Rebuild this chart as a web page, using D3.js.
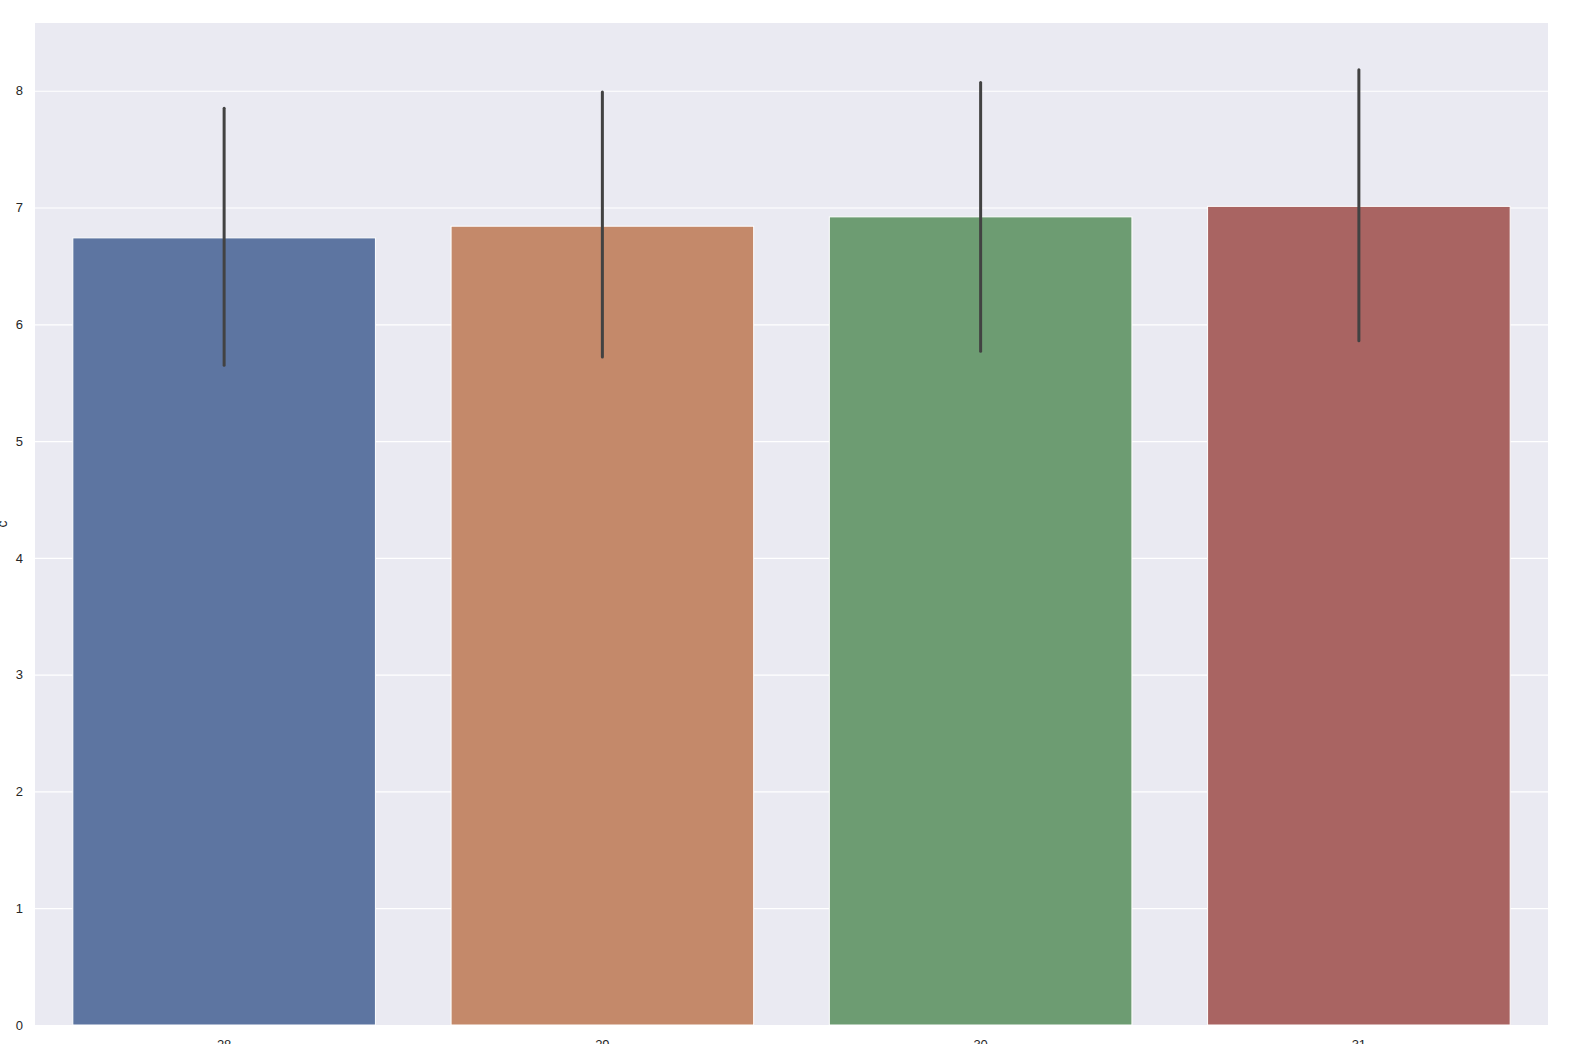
<!DOCTYPE html>
<html>
<head>
<meta charset="utf-8">
<script src="https://cdn.jsdelivr.net/npm/d3@7"></script>
<style>
    body { margin: 0; background: #ffffff; overflow: hidden; }
    svg { display: block; font-family: "Liberation Sans", Arial, sans-serif; }
</style>
</head>
<body>
<svg id="chart"></svg>
<script>
// Data
const categories = ['28', '29', '30', '31'];
const means = [6.74, 6.84, 6.92, 7.01];
const ciLow = [5.65, 5.72, 5.77, 5.86];
const ciHigh = [7.85, 7.99, 8.07, 8.18];
const yTicks = [0, 1, 2, 3, 4, 5, 6, 7, 8];
const colors = ['#5d75a1', '#c4896a', '#6d9c72', '#a96462'];

const w = 1572;
const h = 1044;
const margin = {top: 23, right: 24, bottom: 19, left: 35};

const svg = d3.select('#chart')
    .attr('width', w)
    .attr('height', h);

const x = d3.scaleBand()
    .domain(categories)
    .range([margin.left, w - margin.right])
    .paddingInner(0.2)
    .paddingOuter(0.1);

const y = d3.scaleLinear()
    .domain([0, 8.58])
    .range([h - margin.bottom, margin.top]);

// plot background
svg.append('rect')
    .attr('x', margin.left)
    .attr('y', margin.top)
    .attr('width', w - margin.left - margin.right)
    .attr('height', h - margin.top - margin.bottom)
    .attr('fill', '#eaeaf2');

// y axis with white grid lines
const yAxis = svg.append('g')
    .attr('transform', `translate(${margin.left},0)`)
    .call(d3.axisLeft(y)
        .tickValues(yTicks)
        .tickFormat(d3.format('d'))
        .tickSize(-(w - margin.left - margin.right))
        .tickPadding(12));
yAxis.select('.domain').remove();
yAxis.selectAll('.tick line')
    .attr('stroke', '#ffffff')
    .attr('stroke-width', 1.2);
yAxis.selectAll('.tick text')
    .attr('fill', '#262626')
    .style('font-size', '13px');

// bars
const rows = categories.map((c, i) => ({cat: c, mean: means[i], lo: ciLow[i], hi: ciHigh[i]}));
const color = d3.scaleOrdinal().domain(categories).range(colors);

svg.selectAll('rect.bar')
    .data(rows)
    .join('rect')
    .attr('class', 'bar')
    .attr('x', d => x(d.cat))
    .attr('y', d => y(d.mean))
    .attr('width', x.bandwidth())
    .attr('height', d => y(0) - y(d.mean))
    .attr('fill', d => color(d.cat))
    .attr('stroke', '#ffffff')
    .attr('stroke-width', 1);

// error bars
svg.selectAll('line.err')
    .data(rows)
    .join('line')
    .attr('class', 'err')
    .attr('x1', d => x(d.cat) + x.bandwidth() / 2)
    .attr('x2', d => x(d.cat) + x.bandwidth() / 2)
    .attr('y1', d => y(d.lo))
    .attr('y2', d => y(d.hi))
    .attr('stroke', '#424242')
    .attr('stroke-width', 3)
    .attr('stroke-linecap', 'round');

// x axis, labels mostly cut off at the bottom edge (as in the source image)
const xAxis = svg.append('g')
    .attr('transform', `translate(0,${h - margin.bottom})`)
    .call(d3.axisBottom(x).tickSize(0).tickPadding(15));
xAxis.select('.domain').remove();
xAxis.selectAll('.tick text')
    .attr('fill', '#262626')
    .style('font-size', '13px');

// y label
svg.append('text')
    .attr('transform', `translate(7,${(margin.top + h - margin.bottom) / 2}) rotate(-90)`)
    .attr('text-anchor', 'middle')
    .attr('fill', '#262626')
    .style('font-size', '14px')
    .text('c');
</script>
</body>
</html>
